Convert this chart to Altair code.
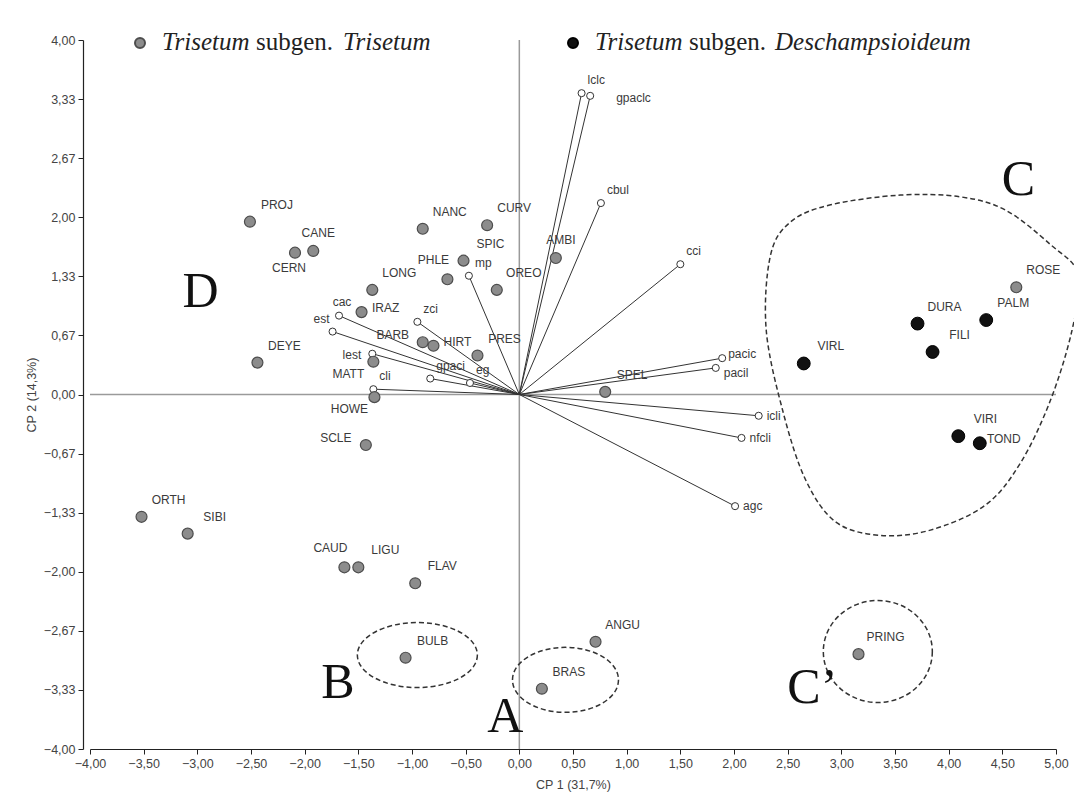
import altair as alt
import pandas as pd

# ---------------- data ----------------
# Trisetum subgen. Trisetum (grey dots)
gray_names = ["PROJ", "CANE", "CERN", "NANC", "CURV", "SPIC", "PHLE", "LONG", "OREO", "AMBI",
              "IRAZ", "BARB", "HIRT", "PRES", "DEYE", "MATT", "HOWE", "SCLE", "ORTH", "SIBI",
              "CAUD", "LIGU", "FLAV", "BULB", "BRAS", "ANGU", "PRING", "SPEL", "ROSE"]
gray_cp1 = [-2.51, -1.92, -2.09, -0.90, -0.30, -0.52, -0.67, -1.37, -0.21, 0.34,
            -1.47, -0.90, -0.80, -0.39, -2.44, -1.36, -1.35, -1.43, -3.52, -3.09,
            -1.63, -1.50, -0.97, -1.06, 0.21, 0.71, 3.16, 0.80, 4.63]
gray_cp2 = [1.95, 1.62, 1.60, 1.87, 1.91, 1.51, 1.30, 1.18, 1.18, 1.54,
            0.93, 0.59, 0.55, 0.44, 0.36, 0.37, -0.03, -0.57, -1.38, -1.57,
            -1.95, -1.95, -2.13, -2.97, -3.32, -2.79, -2.93, 0.03, 1.21]
gray_label_side = ["ur", "u", "d", "ur", "ur", "ur", "ul", "ur", "ur", "u",
                   "r", "l", "r", "ur", "ur", "dl", "dl", "l", "ur", "ur",
                   "ul", "ur", "ur", "ur", "ur", "ur", "ur", "ur", "ur"]

# Trisetum subgen. Deschampsioideum (black dots)
black_names = ["DURA", "PALM", "FILI", "VIRL", "VIRI", "TOND"]
black_cp1 = [3.71, 4.35, 3.85, 2.65, 4.09, 4.29]
black_cp2 = [0.80, 0.84, 0.48, 0.35, -0.47, -0.55]
black_label_side = ["ur", "ur", "ur", "ur", "ur", "r"]

# character vectors
var_names = ["lclc", "gpaclc", "cbul", "cci", "pacic", "pacil", "icli", "nfcli", "agc",
             "mp", "zci", "cac", "est", "lest", "gpaci", "cli", "eg"]
var_cp1 = [0.58, 0.66, 0.76, 1.50, 1.89, 1.83, 2.23, 2.07, 2.01,
           -0.47, -0.95, -1.68, -1.74, -1.37, -0.83, -1.36, -0.46]
var_cp2 = [3.40, 3.37, 2.16, 1.47, 0.41, 0.30, -0.24, -0.49, -1.26,
           1.34, 0.82, 0.89, 0.71, 0.46, 0.18, 0.06, 0.13]
var_label_side = ["ur", "far", "ur", "ur", "ru", "rd", "r", "r", "r",
                  "ur", "ur", "u", "ul", "l", "ur", "ur", "ur"]

# group letters
group_letters = ["A", "B", "C", "C\u2019", "D"]
group_cp1 = [-0.13, -1.69, 4.65, 2.73, -2.97]
group_cp2 = [-3.64, -3.25, 2.42, -3.31, 1.16]

# dashed enclosures: ellipses (centres) and the outline of group C
ellipse_names = ["A", "B", "C\u2019"]
ellipse_cp1 = [0.43, -0.95, 3.34]
ellipse_cp2 = [-3.22, -2.94, -2.90]
blob_cp1 = [2.34, 2.53, 2.90, 3.55, 4.11, 4.53, 4.95, 5.21, 5.15, 4.95, 4.67, 4.34,
            3.83, 3.36, 2.95, 2.67, 2.46, 2.30]
blob_cp2 = [1.57, 1.95, 2.14, 2.25, 2.23, 2.08, 1.69, 1.35, 0.73, -0.06, -0.77, -1.25,
            -1.53, -1.59, -1.44, -0.97, -0.21, 0.73]

x_ticks = [-4.0, -3.5, -3.0, -2.5, -2.0, -1.5, -1.0, -0.5, 0.0, 0.5, 1.0, 1.5,
           2.0, 2.5, 3.0, 3.5, 4.0, 4.5, 5.0]
y_ticks = [-4.0, -3.333, -2.667, -2.0, -1.333, -0.667, 0.0, 0.667, 1.333, 2.0,
           2.667, 3.333, 4.0]

# ---------------- tables ----------------
gray_df = pd.DataFrame({"name": gray_names, "cp1": gray_cp1, "cp2": gray_cp2,
                        "side": gray_label_side})
black_df = pd.DataFrame({"name": black_names, "cp1": black_cp1, "cp2": black_cp2,
                         "side": black_label_side})
var_df = pd.DataFrame({"name": var_names, "cp1": var_cp1, "cp2": var_cp2,
                       "side": var_label_side, "o1": 0.0, "o2": 0.0})
grp_df = pd.DataFrame({"name": group_letters, "cp1": group_cp1, "cp2": group_cp2})
blob_df = pd.DataFrame({"cp1": blob_cp1, "cp2": blob_cp2, "order": list(range(len(blob_cp1)))})
zero_df = pd.DataFrame({"z": [0.0]})

# ---------------- scales / axes ----------------
LABEL_EXPR = "replace(format(datum.value, '.2f'), '.', ',')"
X_SCALE = alt.Scale(domain=[-4, 5], nice=False, zero=False)
Y_SCALE = alt.Scale(domain=[-4, 4], nice=False, zero=False)
x_axis = alt.Axis(values=x_ticks, labelExpr=LABEL_EXPR, title="CP 1 (31,7%)", grid=False,
                  tickSize=5, labelPadding=3, titlePadding=9, labelFlush=False)
y_axis = alt.Axis(values=y_ticks, labelExpr=LABEL_EXPR, title="CP 2 (14,3%)", grid=False,
                  tickSize=5, labelPadding=3, titlePadding=5, offset=7, labelFlush=False)


def X(f):
    return alt.X(f"{f}:Q", scale=X_SCALE, axis=x_axis)


def Y(f):
    return alt.Y(f"{f}:Q", scale=Y_SCALE, axis=y_axis)


layers = []

# zero lines
layers.append(alt.Chart(zero_df).mark_rule(color="#9a9a9a", strokeWidth=1.5).encode(y=Y("z")))
layers.append(alt.Chart(zero_df).mark_rule(color="#9a9a9a", strokeWidth=1.5).encode(x=X("z")))

# group C outline
layers.append(
    alt.Chart(blob_df).mark_line(interpolate="cardinal-closed", color="#333333",
                                 strokeWidth=1.5, strokeDash=[5, 3], clip=False)
    .encode(x=X("cp1"), y=Y("cp2"), order="order:Q")
)

# ellipses (width px, height px)
ellipse_px = [(106, 65), (120, 65), (109, 102)]
k = 0.5523
for nm, cx, cy, (w, h) in zip(ellipse_names, ellipse_cp1, ellipse_cp2, ellipse_px):
    r = h / w
    path = (f"M 1 0 C 1 {k*r:.4f} {k} {r:.4f} 0 {r:.4f} "
            f"C {-k} {r:.4f} -1 {k*r:.4f} -1 0 "
            f"C -1 {-k*r:.4f} {-k} {-r:.4f} 0 {-r:.4f} "
            f"C {k} {-r:.4f} 1 {-k*r:.4f} 1 0 Z")
    layers.append(
        alt.Chart(pd.DataFrame({"cp1": [cx], "cp2": [cy]}))
        .mark_point(shape=path, size=w * w, filled=False, color="#333333", opacity=1,
                    strokeWidth=1.5, strokeDash=[5, 3])
        .encode(x=X("cp1"), y=Y("cp2"))
    )

# vectors
layers.append(
    alt.Chart(var_df).mark_rule(color="#333333", strokeWidth=1)
    .encode(x=X("o1"), y=Y("o2"), x2=alt.X2("cp1"), y2=alt.Y2("cp2"))
)
layers.append(
    alt.Chart(var_df).mark_point(shape="circle", size=50, filled=True, fill="white",
                                 stroke="#333333", strokeWidth=1, opacity=1)
    .encode(x=X("cp1"), y=Y("cp2"))
)

# species points
layers.append(
    alt.Chart(gray_df).mark_point(shape="circle", size=120, filled=True, fill="#8c8c8c",
                                  stroke="#4d4d4d", strokeWidth=1.2, opacity=1)
    .encode(x=X("cp1"), y=Y("cp2"))
)
layers.append(
    alt.Chart(black_df).mark_point(shape="circle", size=165, filled=True, fill="#111111",
                                   stroke="#000000", strokeWidth=1, opacity=1)
    .encode(x=X("cp1"), y=Y("cp2"))
)

# labels of species points
LBL = dict(font="Liberation Sans", fontSize=12, color="#3a3a3a", baseline="middle")
species_off = {"ur": (27, -17, "center"), "u": (5, -18, "center"), "d": (-6, 15, "center"),
               "ul": (-14, -19, "center"), "r": (24, -4, "center"), "l": (-30, -7, "center"),
               "dl": (-25, 12, "center")}
for df in (gray_df, black_df):
    for key, (dx, dy, al) in species_off.items():
        layers.append(
            alt.Chart(df).transform_filter(alt.datum.side == key)
            .mark_text(dx=dx, dy=dy, align=al, **LBL)
            .encode(x=X("cp1"), y=Y("cp2"), text="name:N")
        )

var_off = {"ur": (6, -13, "left"), "far": (26, 2, "left"), "r": (8, 0, "left"),
           "ru": (6, -4, "left"), "rd": (8, 5, "left"), "u": (3, -14, "center"),
           "ul": (-3, -13, "right"), "l": (-11, 1, "right")}
for key, (dx, dy, al) in var_off.items():
    layers.append(
        alt.Chart(var_df).transform_filter(alt.datum.side == key)
        .mark_text(dx=dx, dy=dy, align=al, **LBL)
        .encode(x=X("cp1"), y=Y("cp2"), text="name:N")
    )

# group letters
layers.append(
    alt.Chart(grp_df).mark_text(font="Liberation Serif", fontSize=50, color="#111111",
                                baseline="middle", align="center")
    .encode(x=X("cp1"), y=Y("cp2"), text="name:N")
)

# legend (header) — pixel positions relative to the plot area
layers.append(
    alt.Chart(pd.DataFrame({"k": ["Trisetum subgen. Trisetum"]}))
    .mark_point(shape="circle", size=100, filled=True, fill="#8c8c8c", stroke="#4d4d4d",
                opacity=1)
    .encode(x=alt.value(50), y=alt.value(3))
)
layers.append(
    alt.Chart(pd.DataFrame({"k": ["Trisetum subgen. Deschampsioideum"]}))
    .mark_point(shape="circle", size=100, filled=True, fill="#111111", stroke="#000000",
                opacity=1)
    .encode(x=alt.value(483), y=alt.value(3))
)
legend_pieces = [("Trisetum", "italic", 72), ("subgen.", "normal", 166),
                 ("Trisetum", "italic", 253), ("Trisetum", "italic", 505),
                 ("subgen.", "normal", 599), ("Deschampsioideum", "italic", 685)]
for txt, style, px in legend_pieces:
    layers.append(
        alt.Chart(pd.DataFrame({"t": [txt]}))
        .mark_text(font="Liberation Serif", fontSize=25, fontStyle=style, color="#222222",
                   align="left", baseline="middle")
        .encode(x=alt.value(px), y=alt.value(2), text="t:N")
    )

chart = (
    alt.layer(*layers)
    .properties(width=966, height=709,
                autosize=alt.AutoSizeParams(type="none"),
                padding={"left": 82, "top": 32, "right": 18, "bottom": 51})
    .configure_view(stroke=None)
    .configure_axis(labelFont="Liberation Sans", labelFontSize=12.5,
                    labelColor="#444444", domainColor="#222222", tickColor="#222222",
                    domainWidth=1.2, titleFont="Liberation Sans", titleFontSize=12.5,
                    titleFontWeight="normal", titleColor="#444444")
)

chart.save("out.html", embed_options={"renderer": "svg", "actions": False})
